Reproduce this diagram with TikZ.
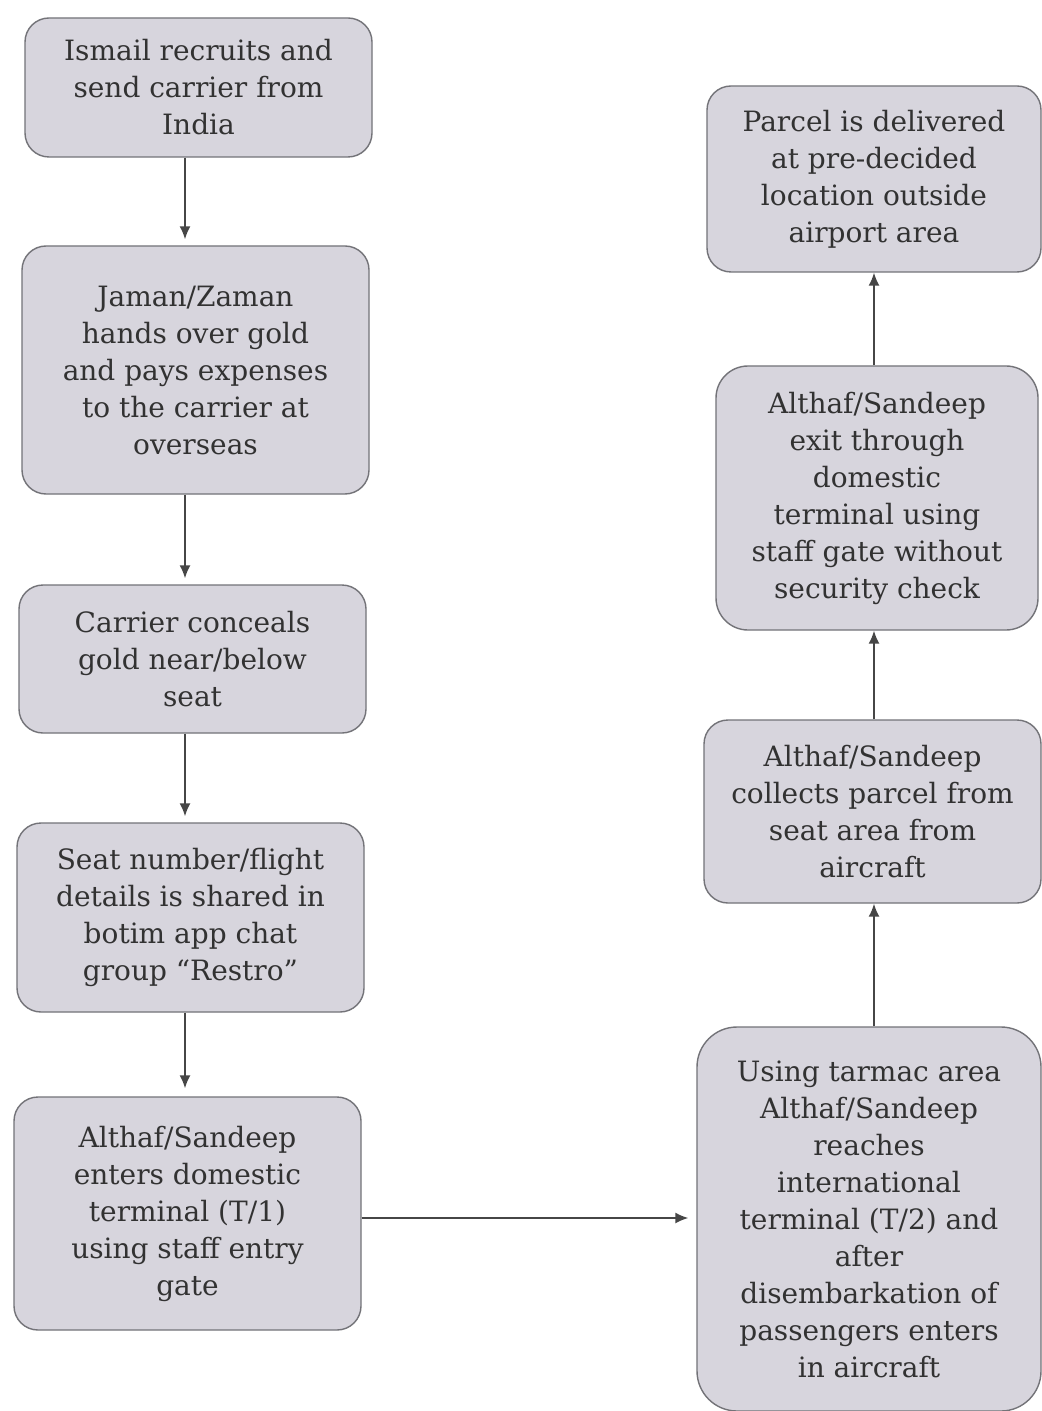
\documentclass[tikz,border=0pt]{standalone}
\usepackage{fontspec}
\setmainfont{DejaVu Serif}
\usetikzlibrary{arrows.meta}
\definecolor{boxfill}{RGB}{215,213,221}
\definecolor{boxline}{RGB}{115,115,120}
\definecolor{txt}{RGB}{50,50,50}
\definecolor{arrc}{RGB}{70,70,70}
\tikzset{
  flowbox/.style={draw=boxline, line width=0.7pt, fill=boxfill, rounded corners=12pt,
    align=center, text=txt, inner sep=0pt,
    font=\fontsize{14pt}{18.5pt}\selectfont},
  arr/.style={draw=arrc, line width=0.8pt, -{Latex[length=6.5pt,width=5.5pt]}}
}
\begin{document}
\begin{tikzpicture}[x=0.5pt,y=-0.5pt]
\path[fill=white,use as bounding box] (0,0) rectangle (1041,1411);
% left column
\node[flowbox, minimum width=173.5pt, minimum height=69.5pt] (L1) at (198.5,87.5)
  {Ismail recruits and\\ send carrier from\\ India};
\node[flowbox, minimum width=173.5pt, minimum height=124pt] (L2) at (195.5,370)
  {Jaman/Zaman\\ hands over gold\\ and pays expenses\\ to the carrier at\\ overseas};
\node[flowbox, minimum width=173.5pt, minimum height=74pt] (L3) at (192.5,659)
  {Carrier conceals\\ gold near/below\\ seat};
\node[flowbox, minimum width=173.5pt, minimum height=94.5pt] (L4) at (190.5,917.5)
  {Seat number/flight\\ details is shared in\\ botim app chat\\ group “Restro”};
\node[flowbox, minimum width=173.5pt, minimum height=116.5pt] (L5) at (187.5,1213.5)
  {Althaf/Sandeep\\ enters domestic\\ terminal (T/1)\\ using staff entry\\ gate};
% right column
\node[flowbox, minimum width=167pt, minimum height=93pt] (R1) at (874,179)
  {Parcel is delivered\\ at pre-decided\\ location outside\\ airport area};
\node[flowbox, minimum width=161pt, minimum height=132pt, rounded corners=16pt] (R2) at (877,498)
  {Althaf/Sandeep\\ exit through\\ domestic\\ terminal using\\ staff gate without\\ security check};
\node[flowbox, minimum width=168.5pt, minimum height=91.5pt] (R3) at (872.5,811.5)
  {Althaf/Sandeep\\ collects parcel from\\ seat area from\\ aircraft};
\node[flowbox, minimum width=172pt, minimum height=192pt, rounded corners=20pt] (R4) at (869,1219)
  {Using tarmac area\\ Althaf/Sandeep\\ reaches\\ international\\ terminal (T/2) and\\ after\\ disembarkation of\\ passengers enters\\ in aircraft};
% guide coordinates
\coordinate (ax) at (185,0);
\coordinate (bx) at (874,0);
\coordinate (hy) at (0,1218);
% connectors
\draw[arr, shorten >=3pt] (L1.south -| ax) -- (L2.north -| ax);
\draw[arr, shorten >=3pt] (L2.south -| ax) -- (L3.north -| ax);
\draw[arr, shorten >=3pt] (L3.south -| ax) -- (L4.north -| ax);
\draw[arr, shorten >=4pt] (L4.south -| ax) -- (L5.north -| ax);
\draw[arr, shorten >=4pt] (L5.east |- hy) -- (R4.west |- hy);
\draw[arr] (R4.north -| bx) -- (R3.south -| bx);
\draw[arr] (R3.north -| bx) -- (R2.south -| bx);
\draw[arr] (R2.north -| bx) -- (R1.south -| bx);
\end{tikzpicture}
\end{document}
